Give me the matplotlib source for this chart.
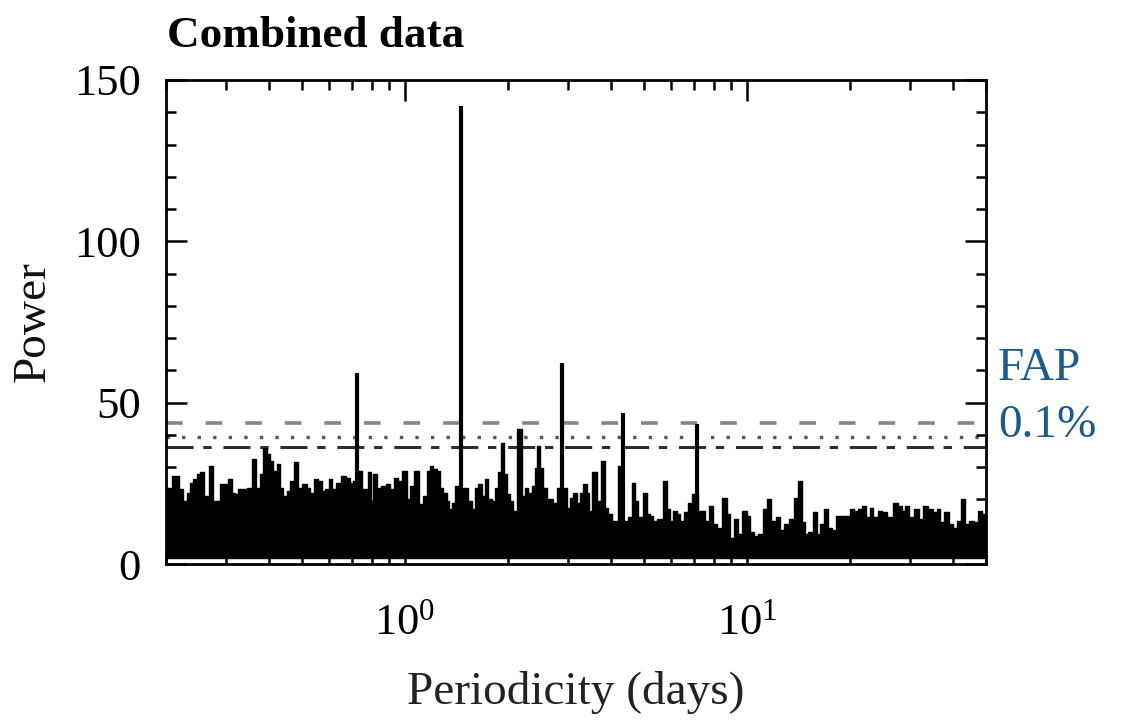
import matplotlib
matplotlib.use('Agg')
import matplotlib.pyplot as plt
from matplotlib.ticker import (LogLocator, MultipleLocator, NullFormatter, FixedLocator,
                               LogFormatterMathtext)

plt.rcParams['font.family'] = ['Liberation Serif', 'DejaVu Serif']
plt.rcParams['mathtext.fontset'] = 'custom'
plt.rcParams['mathtext.rm'] = 'Liberation Serif'
plt.rcParams['mathtext.it'] = 'Liberation Serif:italic'
plt.rcParams['lines.scale_dashes'] = False

# ---- data ----
# upper envelope of the dense periodogram (period in days, power)
period_env = [
    0.200, 0.203, 0.215, 0.222, 0.227, 0.2325, 0.238, 0.243, 0.250, 0.254, 0.263, 0.272,
    0.278, 0.2845, 0.291, 0.301, 0.308, 0.315, 0.322, 0.329, 0.340, 0.352, 0.364, 0.372,
    0.381, 0.390, 0.398, 0.408, 0.417, 0.426, 0.436, 0.446, 0.456, 0.467, 0.482, 0.493,
    0.510, 0.521,
    0.533, 0.552, 0.564, 0.577, 0.590, 0.606, 0.617, 0.638, 0.660, 0.683, 0.698, 0.711,
    0.739, 0.755, 0.773, 0.790, 0.799, 0.817, 0.835, 0.864, 0.894, 0.914, 0.946, 0.967,
    1.000, 1.022, 1.046, 1.082, 1.119, 1.144, 1.170, 1.197, 1.224, 1.251, 1.280, 1.309,
    1.339,
    1.354, 1.384, 1.416, 1.481, 1.515, 1.549, 1.584, 1.621, 1.657, 1.694, 1.734, 1.772,
    1.812, 1.854, 1.896, 1.925, 1.961, 2.005, 2.051, 2.097, 2.169, 2.218, 2.269, 2.320,
    2.372, 2.427, 2.454, 2.510, 2.567, 2.624, 2.685, 2.746, 2.807, 2.937, 3.003, 3.072,
    3.141, 3.212, 3.287, 3.360, 3.436,
    3.475, 3.594, 3.675, 3.801, 3.890, 3.977, 4.064, 4.159, 4.253, 4.449, 4.549, 4.651,
    4.760, 4.866, 5.033, 5.145, 5.264, 5.383, 5.567, 5.758, 5.888, 6.024, 6.160, 6.298,
    6.442, 6.665, 6.814, 6.966, 7.450, 7.623, 7.884, 8.061, 8.337, 8.624, 8.817,
    9.022, 9.333, 9.539, 9.867, 10.09, 10.32, 10.68, 10.92, 11.29, 11.54, 11.94, 12.35,
    12.64, 13.07, 13.51, 13.98, 14.29, 14.61, 14.95, 15.28, 15.81, 16.16, 16.54, 17.02,
    17.49, 17.88, 18.49, 19.12, 19.78, 20.24, 20.93, 21.40, 21.99, 22.63,
    23.15, 23.68, 24.48, 25.32, 26.19, 27.09, 28.02, 28.64, 29.31, 30.31, 31.35, 32.42,
    33.16, 34.29, 35.46, 36.26, 37.10, 38.37, 39.68, 40.57, 41.48, 42.90, 43.89, 45.39,
    46.94, 48.00, 49.08, 50.00,
]
power_env = [
    24.0, 23.7, 27.3, 23.3, 19.6, 22.1, 25.2, 26.4, 27.9, 28.4, 21.1, 30.4,
    19.6, 19.6, 24.8, 24.8, 26.4, 22.1, 21.7, 23.3, 23.3, 23.7, 32.6, 23.7,
    27.9, 36.1, 34.1, 32.0, 28.9, 31.0, 23.7, 21.1, 22.7, 25.8, 31.5, 23.7,
    24.8, 23.7,
    22.1, 26.3, 25.8, 22.7, 23.3, 26.3, 23.3, 25.2, 27.3, 26.8, 25.2, 25.8,
    28.9, 23.3, 23.3, 28.4, 19.6, 27.9, 23.7, 24.2, 24.8, 23.3, 26.8, 25.8,
    28.9, 20.1, 24.2, 28.9, 18.6, 21.1, 28.9, 30.4, 29.4, 28.9, 23.7, 22.1,
    19.6,
    17.0, 19.0, 24.2, 23.7, 23.7, 19.6, 17.0, 23.7, 24.8, 21.1, 26.3, 20.1,
    19.6, 23.7, 28.4, 37.6, 27.9, 21.7, 19.6, 16.5, 41.8, 21.1, 23.7, 22.1,
    24.2, 29.9, 36.6, 29.9, 23.7, 20.1, 20.1, 19.0, 23.7, 23.7, 17.5, 20.6,
    22.1, 19.0, 22.1, 24.8, 22.1,
    16.5, 28.4, 19.6, 32.0, 17.5, 15.5, 13.4, 13.4, 30.4, 13.4, 14.5, 25.2,
    19.6, 14.5, 22.1, 15.5, 15.0, 13.4, 14.0, 25.8, 16.9, 13.4, 16.5, 15.5,
    13.4, 16.0, 19.0, 21.7, 16.5, 13.4, 18.0, 12.4, 11.3, 20.6, 15.5,
    8.2, 14.0, 9.3, 16.5, 15.0, 9.8, 8.8, 9.3, 16.9, 20.1, 13.4, 14.5,
    10.4, 12.4, 14.0, 20.6, 25.8, 12.9, 9.3, 9.8, 16.0, 9.3, 12.4, 16.9,
    11.3, 10.4, 15.0, 15.0, 15.0, 16.9, 16.5, 16.9, 18.0, 14.5,
    17.5, 14.5, 16.5, 16.0, 14.5, 19.0, 18.0, 16.5, 18.0, 14.5, 16.9, 14.0,
    18.0, 16.9, 16.0, 16.9, 12.9, 16.0, 12.4, 11.3, 13.4, 20.1, 12.4, 13.4,
    12.9, 16.5, 15.5, 15.5,
]
power_floor = 1.8

# strongest narrow peaks
spike_period = [0.725, 1.455, 2.884, 4.348, 7.156]
spike_power = [59.3, 142.0, 62.4, 46.9, 43.5]

# false-alarm-probability levels
fap_dashed = 43.8
fap_dotted = 39.4
fap_dashdot = 36.3

# ---- figure ----
fig = plt.figure(figsize=(11.21, 7.27), dpi=100)
ax = fig.add_axes([0.148, 0.2242, 0.7316, 0.6658])

ax.fill_between(period_env, [power_floor] * len(period_env), power_env,
                step='mid', color='black', lw=1.0, edgecolor='black', zorder=2)
ax.vlines(spike_period, power_floor, spike_power, color='black', lw=3.0, zorder=3)

ax.axhline(fap_dashed, color='#858585', lw=2.6, ls=(0, (12, 16.5)), zorder=1)
ax.axhline(fap_dotted, color='#555555', lw=2.4, ls=(0, (2.4, 8.8)), zorder=1)
ax.axhline(fap_dashdot, color='#2e2e2e', lw=2.2, ls=(0, (19.5, 7, 6, 8.5)), zorder=1)

ax.set_xscale('log')
ax.set_xlim(0.2, 50)
ax.set_ylim(0, 150)
ax.xaxis.set_major_locator(FixedLocator([1, 10]))
ax.xaxis.set_minor_locator(LogLocator(base=10, subs=range(2, 10)))
ax.xaxis.set_minor_formatter(NullFormatter())
ax.xaxis.set_major_formatter(LogFormatterMathtext())
ax.set_yticks([0, 50, 100, 150])
ax.yaxis.set_minor_locator(MultipleLocator(10))

for s in ax.spines.values():
    s.set_linewidth(2.0)
ax.tick_params(which='both', direction='in', top=True, right=True, width=1.8, colors='black')
ax.tick_params(which='major', length=15, labelsize=32)
ax.tick_params(which='minor', length=7)
ax.tick_params(axis='y', which='major', pad=18)
ax.tick_params(axis='x', which='major', pad=28)

ax.set_xlabel('Periodicity (days)', fontsize=34, color='#222222', labelpad=20)
ax.set_ylabel('Power', fontsize=34, color='#111111', labelpad=14)

fig.text(167 / 1121, 1 - 47 / 727, 'Combined data', fontsize=32.5, fontweight='bold',
         ha='left', va='baseline')
fig.text(998 / 1121, 1 - 380 / 727, 'FAP', fontsize=34, color='#1b5a8c',
         ha='left', va='baseline')
fig.text(998 / 1121, 1 - 437 / 727, '0.1%', fontsize=34, color='#1b5a8c',
         ha='left', va='baseline')

fig.savefig('out.png', dpi=100)
